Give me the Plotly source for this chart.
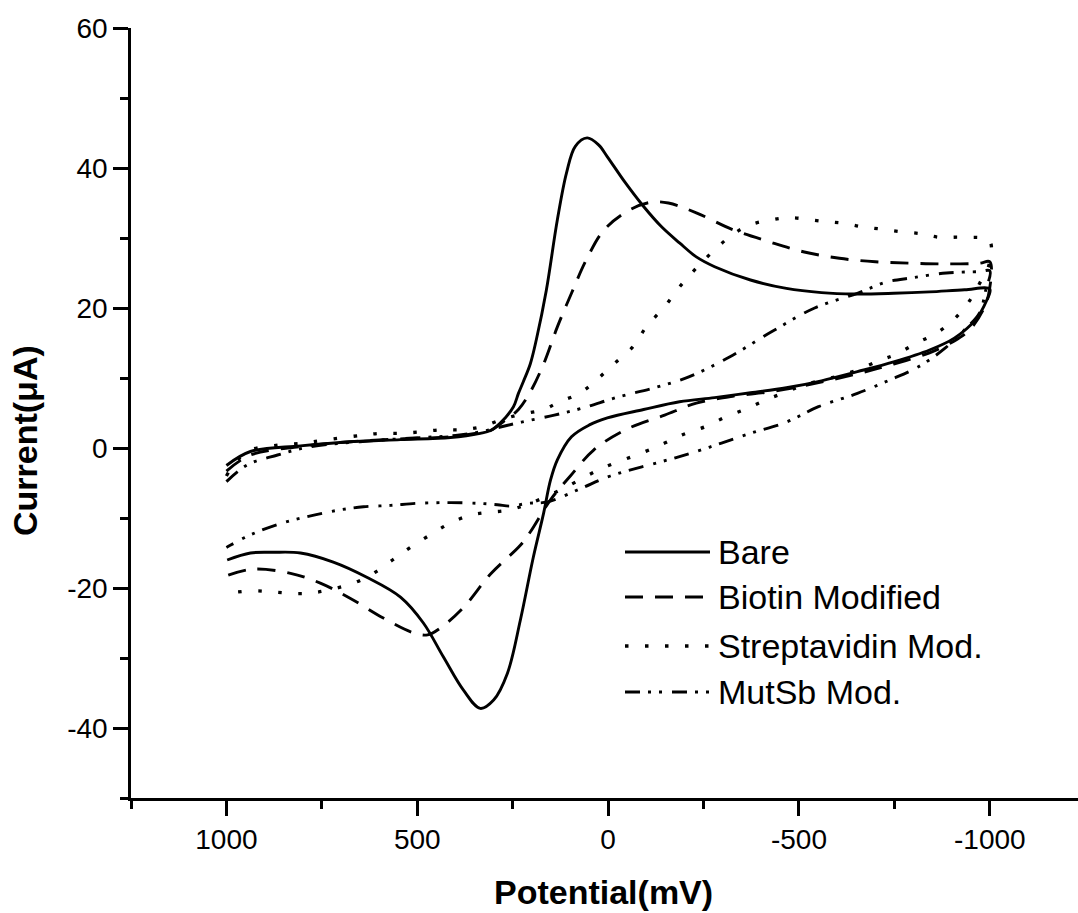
import plotly.graph_objects as go

# ---------------- data (potential in mV, current in uA) ----------------
# forward branch (1000 -> -1000 mV) and return branch (-1000 -> 1000 mV)
bare_up_x = [1000, 937, 806, 675, 544, 413, 335, 308, 282, 248, 235, 222, 204, 188, 162, 133, 109, 86, 55, 25, 2,
             -45, -93, -140, -187, -231, -279, -373, -467, -559, -645, -748, -842, -934, -1000]
bare_up_y = [-2.5, -0.5, 0.3, 0.9, 1.2, 1.5, 2.1, 2.5, 3.6, 5.9, 7.8, 9.5, 12, 15.5, 22.5, 32.6, 39.3, 43.1, 44.3, 43.3, 41.6,
             37.9, 34.5, 31.6, 29.3, 27.3, 25.9, 24.0, 22.8, 22.2, 22.0, 22.1, 22.3, 22.6, 22.7]
bare_dn_x = [-991, -962, -907, -842, -748, -653, -559, -467, -373, -279, -187, -93, 2, 49, 96, 133, 151, 169,
             196, 230, 264, 300, 335, 379, 431, 484, 544, 631, 720, 806, 877, 937, 998]
bare_dn_y = [21.0, 18.3, 15.7, 14.0, 12.3, 10.9, 9.6, 8.6, 7.9, 7.2, 6.6, 5.5, 4.3, 3.3, 1.6, -1.7, -4.6, -9.3,
             -15.6, -24.6, -32.2, -36.0, -37.2, -34.6, -29.9, -25.0, -21.3, -18.5, -16.3, -15.0, -14.9, -15.0, -16.0]

biotin_up_x = [1000, 937, 806, 675, 544, 413, 335, 308, 269, 235, 204, 169, 133, 96, 57, 10, -56, -111, -158, -231,
               -326, -420, -514, -606, -700, -795, -886, -973, -1000]
biotin_up_y = [-3.3, -1.0, 0.2, 0.9, 1.3, 1.6, 2.2, 2.5, 4.0, 5.5, 8.0, 12.0, 17.3, 22.1, 26.9, 31.2, 34.0, 35.1, 35.0, 33.6,
               31.2, 29.5, 28.0, 27.1, 26.6, 26.4, 26.3, 26.4, 26.6]
biotin_dn_x = [-997, -983, -949, -907, -842, -748, -653, -514, -420, -326, -231, -148, -45, 38, 99, 151, 204,
               230, 308, 379, 439, 473, 510, 589, 675, 754, 832, 929, 997]
biotin_dn_y = [22.0, 19.8, 17.0, 15.3, 13.6, 12.0, 10.6, 8.9, 8.0, 7.4, 6.4, 4.7, 2.6, -0.3, -4.0, -7.4, -12.0,
               -13.9, -18.0, -22.8, -25.7, -26.7, -26.4, -24.3, -21.5, -19.3, -17.9, -17.3, -18.2]

strep_up_x = [1000, 976, 937, 866, 798, 746, 649, 597, 544, 492, 439, 387, 335, 282, 238, 169, 128, 75, 31, -17, -64,
              -100, -148, -187, -231, -279, -326, -373, -428, -475, -559, -617, -664, -711, -766, -821, -868, -926, -999]
strep_up_y = [-4.0, -2.0, -0.3, 0.4, 0.7, 1.1, 1.8, 2.1, 2.1, 2.3, 2.6, 2.6, 3.0, 4.0, 4.7, 5.5, 6.6, 7.8, 9.7, 12.1, 14.4,
              17.3, 20.2, 23.0, 25.7, 28.3, 30.5, 31.9, 32.6, 32.9, 32.4, 32.1, 31.6, 31.3, 30.9, 30.6, 30.1, 30.1, 29.6]
strep_dn_x = [-997, -975, -949, -910, -860, -808, -755, -711, -635, -514, -457, -410, -362, -307, -252, -195,
              -148, -93, 20, 125, 209, 264, 316, 361, 413, 460, 518, 565, 615, 667, 762, 814, 872, 924, 976, 1000]
strep_dn_y = [26.0, 23.7, 21.2, 18.6, 16.4, 15.0, 13.4, 12.5, 10.8, 9.0, 7.8, 6.8, 5.6, 4.4, 3.0, 1.9,
              0.7, -0.6, -3.0, -6.0, -8.0, -8.9, -9.2, -9.6, -10.7, -12.2, -14.2, -16.0, -17.9, -19.3, -20.6, -20.8,
              -20.6, -20.4, -20.6, -20.8]

mutsb_up_x = [1000, 945, 866, 788, 650, 520, 400, 335, 282, 227, 141, 67, -27, -121, -213, -318, -428, -541, -653,
              -729, -795, -886, -973, -1000]
mutsb_up_y = [-4.8, -2.4, -1.0, 0.1, 0.9, 1.4, 1.8, 2.3, 3.0, 3.7, 4.7, 5.7, 7.3, 8.6, 10.2, 13.0, 16.6, 20.0, 22.1,
              23.7, 24.3, 25.0, 25.2, 25.3]
mutsb_dn_x = [-989, -973, -934, -886, -813, -737, -653, -551, -467, -373, -297, -242, -176, -6, 72, 159, 211,
              256, 290, 342, 413, 500, 570, 641, 709, 788, 859, 937, 990, 1000]
mutsb_dn_y = [22.5, 19.3, 16.9, 14.4, 11.6, 9.7, 7.8, 5.9, 3.7, 2.1, 0.7, -0.3, -1.4, -4.0, -5.8, -7.7, -7.9,
              -8.3, -8.1, -7.9, -7.8, -7.9, -8.2, -8.4, -8.9, -9.8, -10.8, -12.4, -13.9, -14.2]

series_names = ["Bare", "Biotin Modified", "Streptavidin Mod.", "MutSb Mod."]

x_tick_vals = [1000, 500, 0, -500, -1000]
x_tick_text = ["1000", "500", "0", "-500", "-1000"]
y_tick_vals = [-40, -20, 0, 20, 40, 60]
y_tick_text = ["-40", "-20", "0", "20", "40", "60"]
x_minor_vals = [1250, 750, 250, -250, -750]
y_minor_vals = [-50, -30, -10, 10, 30, 50]

x_title = "Potential(mV)"
y_title = "Current(μA)"

# ---------------- styles ----------------
FONT = "Arial, 'Liberation Sans', sans-serif"
widths = [2.9, 2.9, 3.3, 2.9]
dashes = ["solid", "18px,12px", "3.5px,16.5px", "15px,8px,3px,8px,3px,10px"]

curves = [
    (bare_up_x + bare_dn_x, bare_up_y + bare_dn_y),
    (biotin_up_x + biotin_dn_x, biotin_up_y + biotin_dn_y),
    (strep_up_x + strep_dn_x, strep_up_y + strep_dn_y),
    (mutsb_up_x + mutsb_dn_x, mutsb_up_y + mutsb_dn_y),
]

fig = go.Figure()
for (xs, ys), name, dash, w in zip(curves, series_names, dashes, widths):
    fig.add_trace(go.Scatter(x=xs, y=ys, mode="lines", name=name,
                             line=dict(color="black", width=w, dash=dash, shape="spline", smoothing=1.0),
                             showlegend=False))

# geometry of the plot area (pixels)
W, H = 1078, 913
ML, MR, MT, MB = 131, 0, 28, 115
PW, PH = W - ML - MR, H - MT - MB


def px_to_paper_x(px):
    return (px - ML) / PW


def py_to_paper_y(py):
    return (H - MB - py) / PH


# custom legend (long line samples like the original)
legend_rows_py = [552, 597, 646, 692]
shapes = []
annotations = []
for name, dash, w, py in zip(series_names, dashes, widths, legend_rows_py):
    shapes.append(dict(type="line", xref="paper", yref="paper",
                       x0=px_to_paper_x(625), x1=px_to_paper_x(710),
                       y0=py_to_paper_y(py), y1=py_to_paper_y(py),
                       line=dict(color="black", width=w, dash=dash)))
    annotations.append(dict(text=name, xref="paper", yref="paper",
                            x=px_to_paper_x(716), y=py_to_paper_y(py),
                            xanchor="left", yanchor="middle", showarrow=False,
                            font=dict(family=FONT, size=34, color="black")))

annotations.append(dict(text="<b>" + x_title + "</b>", xref="paper", yref="paper",
                        x=px_to_paper_x(603), y=py_to_paper_y(892),
                        xanchor="center", yanchor="middle", showarrow=False,
                        font=dict(family=FONT, size=34, color="black")))
annotations.append(dict(text="<b>" + y_title + "</b>", xref="paper", yref="paper",
                        x=px_to_paper_x(25), y=py_to_paper_y(441), textangle=-90,
                        xanchor="center", yanchor="middle", showarrow=False,
                        font=dict(family=FONT, size=34, color="black")))

axis_common = dict(showgrid=False, zeroline=False, showline=True, linecolor="black", linewidth=2.5,
                   ticks="outside", ticklen=15, tickwidth=2.5, tickcolor="black",
                   tickfont=dict(family=FONT, size=28, color="black"))

fig.update_layout(
    width=W, height=H,
    margin=dict(l=ML, r=MR, t=MT, b=MB, pad=0),
    paper_bgcolor="white", plot_bgcolor="white",
    shapes=shapes, annotations=annotations,
    xaxis=dict(range=[1250, -1231], tickmode="array", tickvals=x_tick_vals, ticktext=x_tick_text,
               minor=dict(tickmode="array", tickvals=x_minor_vals, ticks="outside", ticklen=8,
                          tickwidth=2.5, tickcolor="black"),
               **axis_common),
    yaxis=dict(range=[-50, 60], tickmode="array", tickvals=y_tick_vals, ticktext=y_tick_text,
               minor=dict(tickmode="array", tickvals=y_minor_vals, ticks="outside", ticklen=8,
                          tickwidth=2.5, tickcolor="black"),
               **axis_common),
)

fig.write_html("out.html")
